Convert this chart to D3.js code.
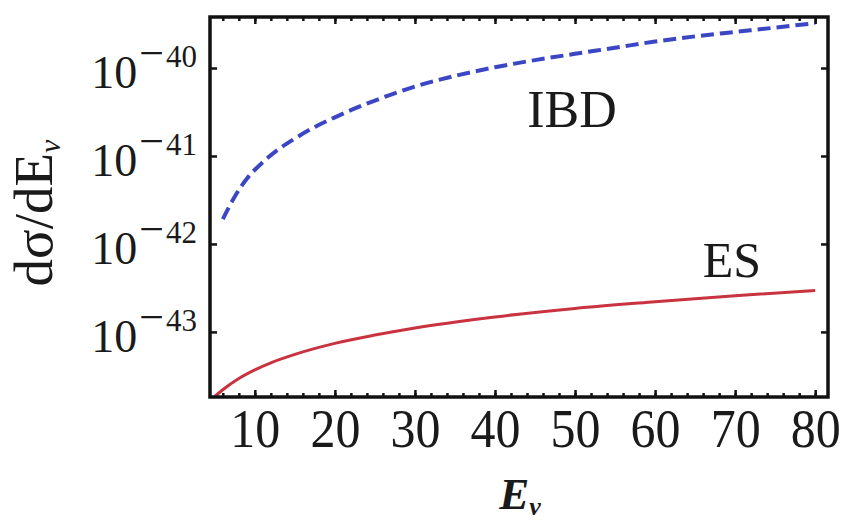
<!DOCTYPE html>
<html>
<head>
<meta charset="utf-8">
<script src="https://cdn.jsdelivr.net/npm/d3@7"></script>
<style>
  body { margin: 0; background: #fff; }
  text { font-family: "Liberation Serif", "Times New Roman", serif; fill: #1a1a1a; }
</style>
</head>
<body>
<div id="container"></div>
<script>
// energies (MeV) and cross sections
let ibdEnergy = [6, 7.5, 9, 11, 13, 15, 17.5, 20, 22.5, 25, 30, 35, 40, 45, 50, 55, 60, 65, 70, 75, 80];
let ibdSigma = [1.91e-42, 3.47e-42, 5.5e-42, 8.5e-42, 1.2e-41, 1.58e-41, 2.14e-41, 2.75e-41, 3.47e-41, 4.27e-41,
                6.17e-41, 8.13e-41, 1.02e-40, 1.23e-40, 1.45e-40, 1.7e-40, 2.0e-40, 2.29e-40, 2.57e-40, 2.88e-40, 3.24e-40];
let esEnergy = [5, 6, 8, 10, 12, 15, 20, 25, 30, 40, 50, 60, 70, 80];
let esSigma = [1.85e-44, 2.2e-44, 2.95e-44, 3.7e-44, 4.45e-44, 5.55e-44, 7.4e-44, 9.2e-44, 1.11e-43, 1.48e-43, 1.85e-43, 2.2e-43, 2.58e-43, 2.95e-43];
let xTicks = [10, 20, 30, 40, 50, 60, 70, 80];
let xMinorTicks = d3.range(6, 82, 2);
let yTicks = [1e-40, 1e-41, 1e-42, 1e-43];
let yTickExp = ["40", "41", "42", "43"];

let w = 848;
let h = 522;
let padL = 210, padR = 828, padT = 17, padB = 397;

let svg = d3.select("#container")
  .append("svg")
  .attr("width", w)
  .attr("height", h);

let x = d3.scaleLinear().domain([4.4, 81.6]).range([padL, padR]);
let y = d3.scaleLog().domain([Math.pow(10, -43.74), Math.pow(10, -39.42)]).range([padB, padT]);

// curves
let line = d3.line()
  .x(function(d) { return x(d[0]); })
  .y(function(d) { return y(d[1]); })
  .curve(d3.curveMonotoneX);

svg.append("path")
  .datum(d3.zip(esEnergy, esSigma))
  .attr("d", line)
  .attr("fill", "none")
  .attr("stroke", "#c9333f")
  .attr("stroke-width", 3);

svg.append("path")
  .datum(d3.zip(ibdEnergy, ibdSigma))
  .attr("d", line)
  .attr("fill", "none")
  .attr("stroke", "#3b46c4")
  .attr("stroke-width", 4)
  .attr("stroke-dasharray", "13,6");

// ticks, all pointing inward
function ticksOnly(g) {
  g.selectAll("text").remove();
  g.select(".domain").remove();
  g.selectAll("line").attr("stroke", "#111").attr("stroke-width", 2.5);
}

svg.append("g").attr("transform", "translate(0," + padB + ")")
  .call(d3.axisBottom(x).tickValues(xMinorTicks).tickSizeInner(-4).tickSizeOuter(0)).call(ticksOnly);
svg.append("g").attr("transform", "translate(0," + padT + ")")
  .call(d3.axisTop(x).tickValues(xMinorTicks).tickSizeInner(-4).tickSizeOuter(0)).call(ticksOnly);
svg.append("g").attr("transform", "translate(0," + padT + ")")
  .call(d3.axisTop(x).tickValues(xTicks).tickSizeInner(-7).tickSizeOuter(0)).call(ticksOnly);

let xAxis = svg.append("g").attr("transform", "translate(0," + padB + ")")
  .call(d3.axisBottom(x).tickValues(xTicks).tickSizeInner(-7).tickSizeOuter(0).tickPadding(10).tickFormat(d3.format("d")));
xAxis.select(".domain").remove();
xAxis.selectAll("line").attr("stroke", "#111").attr("stroke-width", 2.5);
xAxis.selectAll("text")
  .attr("font-size", 50)
  .attr("fill", "#1a1a1a")
  .attr("transform", "scale(1,1.1)");

svg.append("g").attr("transform", "translate(" + padL + ",0)")
  .call(d3.axisLeft(y).tickValues(yTicks).tickSizeInner(-7).tickSizeOuter(0)).call(ticksOnly);
svg.append("g").attr("transform", "translate(" + padR + ",0)")
  .call(d3.axisRight(y).tickValues(yTicks).tickSizeInner(-7).tickSizeOuter(0)).call(ticksOnly);

// y tick labels 10^-n
let yLab = svg.selectAll(".ylab")
  .data(yTicks)
  .enter()
  .append("text")
  .attr("class", "ylab")
  .attr("text-anchor", "end")
  .attr("x", 197)
  .attr("y", function(d) { return y(d) + 20; });
yLab.append("tspan").attr("font-size", 46).text("10");
yLab.append("tspan").attr("font-size", 44).attr("dx", 2).attr("dy", -20).text("\u2212");
yLab.append("tspan").attr("font-size", 31).attr("dx", 2).attr("dy", -1).text(function(d, i) { return yTickExp[i]; });

// frame
svg.append("rect")
  .attr("x", padL).attr("y", padT)
  .attr("width", padR - padL).attr("height", padB - padT)
  .attr("fill", "none")
  .attr("stroke", "#111")
  .attr("stroke-width", 3.5);

// curve labels
svg.append("text").attr("x", 572).attr("y", 127).attr("text-anchor", "middle").attr("font-size", 52).text("IBD");
svg.append("text").attr("x", 732).attr("y", 277).attr("text-anchor", "middle").attr("font-size", 50).text("ES");

// axis titles
let yt = svg.append("text")
  .attr("transform", "translate(52,213) rotate(-90)")
  .attr("text-anchor", "middle")
  .attr("font-size", 55);
yt.append("tspan").text("d\u03c3/dE");
yt.append("tspan").attr("font-size", 30).attr("font-style", "italic").attr("dy", 8).text("\u03bd");

let xt = svg.append("text")
  .attr("x", 520).attr("y", 509)
  .attr("text-anchor", "middle")
  .attr("font-style", "italic")
  .attr("font-weight", "bold")
  .attr("font-size", 45);
xt.append("tspan").text("E");
xt.append("tspan").attr("font-size", 26).attr("dy", 6).text("\u03bd");
</script>
</body>
</html>
